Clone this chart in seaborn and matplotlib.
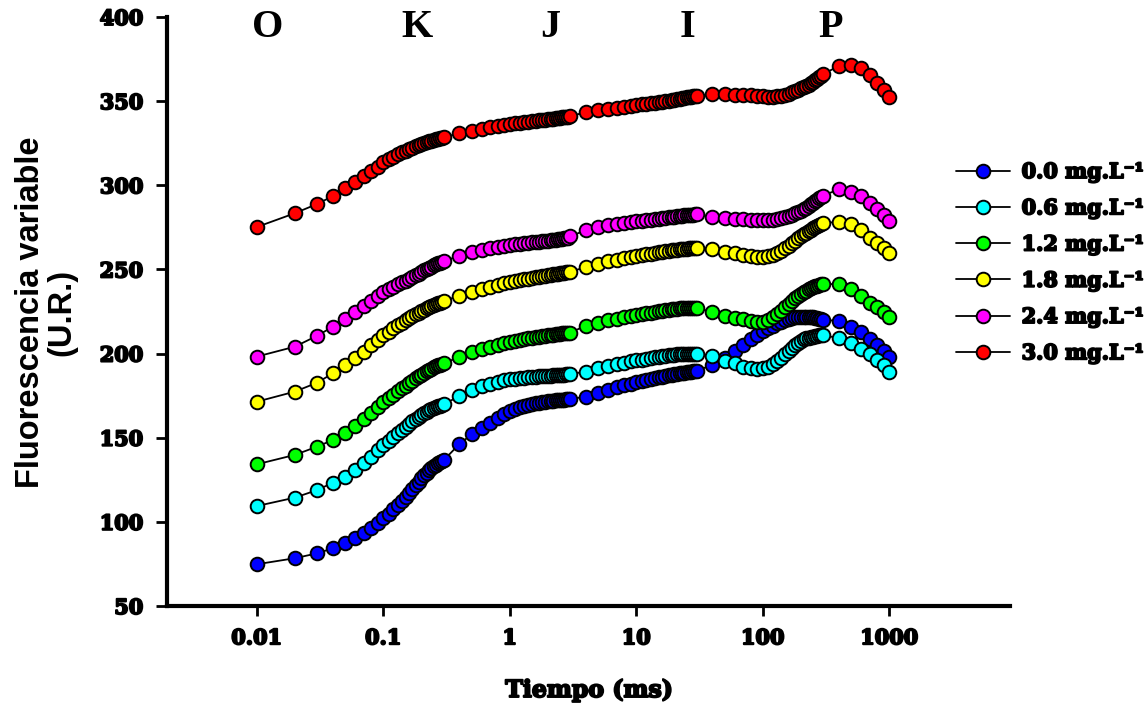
import matplotlib
matplotlib.use("Agg")
import matplotlib.pyplot as plt
import matplotlib.patheffects as pe
from matplotlib.lines import Line2D
from matplotlib.ticker import NullLocator
import numpy as np
import pandas as pd
import seaborn as sns

# ---- sampling times (ms) ----
time_a = [0.01, 0.02, 0.03, 0.04, 0.05, 0.06, 0.07, 0.08, 0.09, 0.10,
          0.11, 0.12, 0.13, 0.14, 0.15, 0.16, 0.17, 0.18, 0.19, 0.20,
          0.21, 0.22, 0.23, 0.24, 0.25, 0.26, 0.27, 0.28, 0.29, 0.30]
time_b = [0.4, 0.5, 0.6, 0.7, 0.8, 0.9, 1.0, 1.1, 1.2, 1.3, 1.4, 1.5, 1.6, 1.7,
          1.8, 1.9, 2.0, 2.1, 2.2, 2.3, 2.4, 2.5, 2.6, 2.7, 2.8, 2.9, 3.0]
time_c = [4, 5, 6, 7, 8, 9, 10, 11, 12, 13, 14, 15, 16, 17,
          18, 19, 20, 21, 22, 23, 24, 25, 26, 27, 28, 29, 30]
time_d = [40, 50, 60, 70, 80, 90, 100, 110, 120, 130, 140, 150, 160, 170,
          180, 190, 200, 210, 220, 230, 240, 250, 260, 270, 280, 290, 300]
time_e = [400, 500, 600, 700, 800, 900, 1000]
tiempo = time_a + time_b + time_c + time_d + time_e

# ---- variable fluorescence per dose ----
fv_00 = ([74.8, 78.4, 81.3, 84.3, 87.3, 90.6, 93.2, 96.2, 99.2, 102.1,
          104.8, 107.4, 110.0, 112.5, 115.0, 117.3, 119.5, 121.7, 123.8, 125.8,
          127.6, 129.2, 130.6, 131.8, 132.9, 133.9, 134.8, 135.5, 136.1, 136.6]
         + [146.3, 152.0, 155.8, 159.0, 161.8, 164.2, 166.0, 167.3, 168.3, 169.0,
            169.6, 170.1, 170.5, 170.9, 171.2, 171.5, 171.7, 171.9, 172.1, 172.3,
            172.4, 172.5, 172.6, 172.7, 172.8, 172.9, 173.0]
         + [174.4, 176.6, 178.4, 179.9, 181.1, 182.1, 183.0, 183.7, 184.3, 184.9,
            185.4, 185.9, 186.3, 186.7, 187.1, 187.4, 187.7, 188.0, 188.3, 188.5,
            188.7, 188.9, 189.1, 189.3, 189.5, 189.6, 189.8]
         + [193.2, 197.5, 201.5, 205.0, 208.5, 211.3, 213.6, 215.0, 216.6, 218.0,
            219.0, 220.0, 220.8, 221.4, 221.8, 222.0, 222.0, 222.0, 222.0, 221.9,
            221.8, 221.6, 221.3, 221.0, 220.6, 220.3, 220.0]
         + [219.4, 216.0, 212.6, 208.5, 205.1, 201.5, 198.2])

fv_06 = ([109.4, 114.4, 118.9, 123.3, 126.9, 130.8, 134.8, 138.7, 142.5, 145.7,
          148.3, 150.6, 152.8, 154.8, 156.6, 158.2, 159.7, 161.1, 162.4, 163.6,
          164.6, 165.5, 166.3, 167.0, 167.6, 168.1, 168.6, 169.0, 169.4, 169.8]
         + [174.8, 178.2, 180.5, 182.2, 183.3, 184.1, 184.7, 185.1, 185.4, 185.7,
            185.9, 186.1, 186.3, 186.5, 186.6, 186.7, 186.8, 186.9, 187.0, 187.1,
            187.2, 187.3, 187.4, 187.5, 187.6, 187.7, 187.8]
         + [189.3, 191.2, 192.6, 193.7, 194.6, 195.3, 195.9, 196.4, 196.9, 197.3,
            197.7, 198.0, 198.3, 198.6, 198.9, 199.1, 199.3, 199.5, 199.6, 199.7,
            199.8, 199.9, 200.0, 200.0, 200.0, 200.0, 200.0]
         + [198.8, 195.8, 194.2, 192.2, 191.3, 190.8, 191.3, 192.2, 193.8, 195.6,
            197.6, 199.8, 201.7, 203.5, 205.1, 206.5, 207.7, 208.4, 209.1, 209.5,
            209.8, 210.1, 210.4, 210.6, 210.8, 211.0, 211.1]
         + [209.0, 206.0, 202.7, 199.8, 196.2, 193.2, 189.3])

fv_12 = ([134.2, 139.8, 144.7, 148.7, 153.0, 157.0, 161.0, 164.5, 168.2, 171.4,
          173.6, 175.6, 177.5, 179.3, 181.0, 182.5, 183.9, 185.2, 186.4, 187.5,
          188.5, 189.4, 190.3, 191.1, 191.8, 192.4, 193.0, 193.5, 194.0, 194.4]
         + [197.8, 200.8, 202.6, 204.0, 205.2, 206.2, 207.1, 207.7, 208.2, 208.7,
            209.1, 209.5, 209.8, 210.1, 210.4, 210.7, 210.9, 211.1, 211.3, 211.5,
            211.7, 211.9, 212.0, 212.1, 212.2, 212.3, 212.4]
         + [216.6, 218.4, 219.8, 220.8, 221.7, 222.4, 223.0, 223.5, 224.0, 224.4,
            224.8, 225.2, 225.5, 225.8, 226.1, 226.3, 226.5, 226.7, 226.8, 226.9,
            227.0, 227.0, 227.0, 227.0, 227.0, 227.0, 226.9]
         + [224.9, 222.3, 221.4, 220.4, 219.4, 218.8, 219.0, 220.0, 221.5, 223.3,
            225.5, 227.5, 229.5, 231.4, 232.8, 234.2, 235.4, 236.4, 237.4, 238.1,
            238.8, 239.4, 239.9, 240.4, 240.8, 241.1, 241.4]
         + [241.2, 238.2, 234.4, 230.3, 227.8, 224.5, 221.5])

fv_18 = ([171.4, 177.4, 182.7, 188.3, 193.2, 197.2, 201.1, 204.8, 208.0, 211.0,
          213.0, 214.9, 216.7, 218.3, 219.8, 221.1, 222.3, 223.4, 224.4, 225.3,
          226.1, 226.9, 227.6, 228.2, 228.8, 229.3, 229.8, 230.3, 230.7, 231.1]
         + [234.5, 236.8, 238.2, 239.6, 240.8, 241.8, 242.6, 243.2, 243.7, 244.2,
            244.6, 245.0, 245.4, 245.7, 246.0, 246.3, 246.6, 246.9, 247.1, 247.3,
            247.5, 247.7, 247.9, 248.1, 248.3, 248.5, 248.7]
         + [251.3, 253.4, 254.8, 255.8, 256.6, 257.3, 257.9, 258.4, 258.9, 259.3,
            259.7, 260.1, 260.4, 260.7, 261.0, 261.3, 261.6, 261.8, 262.0, 262.2,
            262.3, 262.4, 262.5, 262.6, 262.6, 262.7, 262.7]
         + [261.9, 260.5, 259.6, 258.6, 258.0, 257.6, 257.6, 258.0, 258.6, 259.6,
            261.1, 262.5, 264.1, 265.5, 267.0, 268.5, 269.9, 270.8, 271.8, 272.7,
            273.6, 274.4, 275.1, 275.7, 276.3, 276.9, 277.4]
         + [278.4, 277.0, 273.4, 268.5, 265.9, 262.5, 259.6])

fv_24 = ([198.2, 204.1, 210.6, 216.0, 220.6, 224.5, 228.3, 231.4, 234.2, 236.8,
          238.4, 239.8, 241.1, 242.3, 243.4, 244.5, 245.5, 246.5, 247.5, 248.5,
          249.4, 250.2, 251.0, 251.7, 252.4, 253.0, 253.6, 254.1, 254.6, 255.0]
         + [258.0, 260.3, 261.6, 262.6, 263.4, 264.0, 264.5, 264.9, 265.2, 265.5,
            265.8, 266.1, 266.3, 266.5, 266.7, 266.9, 267.1, 267.3, 267.5, 267.7,
            267.9, 268.1, 268.3, 268.5, 268.7, 268.9, 269.6]
         + [273.4, 275.0, 276.2, 277.0, 277.6, 278.1, 278.5, 278.9, 279.2, 279.5,
            279.8, 280.1, 280.4, 280.7, 281.0, 281.2, 281.4, 281.6, 281.8, 282.0,
            282.2, 282.3, 282.4, 282.5, 282.6, 282.7, 282.8]
         + [281.4, 280.8, 280.0, 279.8, 279.4, 279.2, 279.2, 279.4, 279.6, 280.0,
            280.4, 281.0, 281.8, 282.6, 283.4, 284.2, 284.9, 285.7, 286.5, 287.5,
            288.6, 289.7, 290.5, 291.3, 292.2, 293.0, 293.9]
         + [297.6, 296.2, 293.6, 289.7, 285.9, 282.4, 278.8])

fv_30 = ([275.2, 283.4, 288.9, 293.6, 298.3, 302.1, 305.5, 308.5, 311.1, 313.6,
          315.4, 317.0, 318.4, 319.5, 320.5, 321.5, 322.4, 323.2, 323.9, 324.5,
          325.1, 325.6, 326.1, 326.5, 326.9, 327.3, 327.7, 328.0, 328.3, 328.6]
         + [330.9, 332.4, 333.5, 334.4, 335.1, 335.8, 336.4, 336.8, 337.2, 337.5,
            337.8, 338.1, 338.4, 338.6, 338.8, 339.0, 339.2, 339.4, 339.6, 339.8,
            340.0, 340.2, 340.4, 340.5, 340.7, 340.8, 341.0]
         + [343.5, 344.5, 345.5, 346.2, 346.8, 347.3, 347.8, 348.1, 348.4, 348.7,
            349.0, 349.3, 349.6, 349.9, 350.2, 350.5, 350.8, 351.1, 351.4, 351.7,
            352.0, 352.2, 352.4, 352.6, 352.8, 353.0, 353.1]
         + [354.1, 354.0, 353.8, 353.7, 353.5, 353.2, 352.9, 352.7, 352.7, 352.8,
            353.1, 353.6, 354.4, 355.2, 356.0, 356.8, 357.6, 358.2, 358.8, 359.6,
            360.5, 361.5, 362.4, 363.3, 364.2, 365.1, 366.0]
         + [371.0, 371.5, 369.7, 365.8, 360.5, 356.8, 352.3])

dosis = ["0.0 mg.L⁻¹", "0.6 mg.L⁻¹", "1.2 mg.L⁻¹",
         "1.8 mg.L⁻¹", "2.4 mg.L⁻¹", "3.0 mg.L⁻¹"]
colores = ["#0000ff", "#00ffff", "#00ff00", "#ffff00", "#ff00ff", "#ff0000"]
series = [fv_00, fv_06, fv_12, fv_18, fv_24, fv_30]

fases = ["O", "K", "J", "I", "P"]
fases_t = [0.0122, 0.185, 2.1, 25.5, 345]

x_ticks = [0.01, 0.1, 1, 10, 100, 1000]
x_labels = ["0.01", "0.1", "1", "10", "100", "1000"]
y_ticks = [50, 100, 150, 200, 250, 300, 350, 400]

for s in series:
    if len(s) != len(tiempo):
        raise ValueError("series length mismatch")

df = pd.DataFrame({"tiempo": tiempo})
for lab, s in zip(dosis, series):
    df[lab] = s

sns.set_style("white")
plt.rcParams["font.family"] = ["DejaVu Serif"]
for key in ["text.color", "axes.labelcolor", "xtick.color", "ytick.color",
            "axes.edgecolor"]:
    plt.rcParams[key] = "black"

fig = plt.figure(figsize=(11.47, 7.09), dpi=100)
ax = fig.add_axes([167 / 1147, 1 - 606 / 709, (1010 - 167) / 1147, (606 - 17) / 709])

MS = 9.8
for i, (lab, col) in enumerate(zip(dosis, colores)):
    sns.lineplot(data=df, x="tiempo", y=lab, ax=ax, color="black", linewidth=1.3,
                 marker="o", markersize=MS, markerfacecolor=col,
                 markeredgecolor="black", markeredgewidth=1.4,
                 legend=False, zorder=3 + i)

ax.set_xscale("log")
ax.set_xlim(0.00195, 9000)
ax.set_ylim(50, 400)
ax.set_xticks(x_ticks)
ax.set_xticklabels(x_labels)
ax.xaxis.set_minor_locator(NullLocator())
ax.set_yticks(y_ticks)
ax.set_yticklabels([str(v) for v in y_ticks])
ax.set_xlabel("")
ax.set_ylabel("")
ax.grid(False)

for side in ["top", "right"]:
    ax.spines[side].set_visible(False)
for side in ["left", "bottom"]:
    ax.spines[side].set_linewidth(3)
    ax.spines[side].set_color("black")

ax.tick_params(axis="y", direction="out", length=8, width=2, pad=9, left=True,
               colors="black")
ax.tick_params(axis="x", direction="out", length=7, width=2, pad=9, bottom=True,
               colors="black")

stroke = [pe.withStroke(linewidth=1.4, foreground="black")]
for t in ax.get_xticklabels() + ax.get_yticklabels():
    t.set_fontfamily("DejaVu Serif")
    t.set_fontweight("bold")
    t.set_fontsize(15)
    t.set_color("black")
    t.set_path_effects(stroke)

# OJIP phase letters
for letra, tx in zip(fases, fases_t):
    ax.text(tx, 393.5, letra, ha="center", va="center", fontsize=29,
            fontfamily="Liberation Serif", fontweight="bold", color="black")

fig.text(589 / 1147, 1 - 690 / 709, "Tiempo (ms)", ha="center", va="center",
         fontsize=17, fontfamily="DejaVu Serif", fontweight="bold",
         color="black", path_effects=stroke)
fig.text(46 / 1147, 1 - 312 / 709, "Fluorescencia variable\n(U.R.)",
         ha="center", va="center", rotation=90, fontsize=23.5,
         fontfamily="Liberation Sans", fontweight="bold", color="black",
         multialignment="center", linespacing=1.0)

handles = [Line2D([0], [0], color="black", linewidth=1.3, marker="o",
                  markersize=MS, markerfacecolor=c, markeredgecolor="black",
                  markeredgewidth=1.4) for c in colores]
leg = ax.legend(handles, dosis, loc="upper left",
                bbox_to_anchor=(956 / 1147, 1 - 162 / 709),
                bbox_transform=fig.transFigure, frameon=False,
                borderpad=0, borderaxespad=0, handlelength=2.6,
                handletextpad=0.55, labelspacing=0.78,
                prop={"family": "DejaVu Serif", "weight": "bold", "size": 15})
for t in leg.get_texts():
    t.set_color("black")
    t.set_path_effects(stroke)

fig.savefig("out.png", dpi=100)
